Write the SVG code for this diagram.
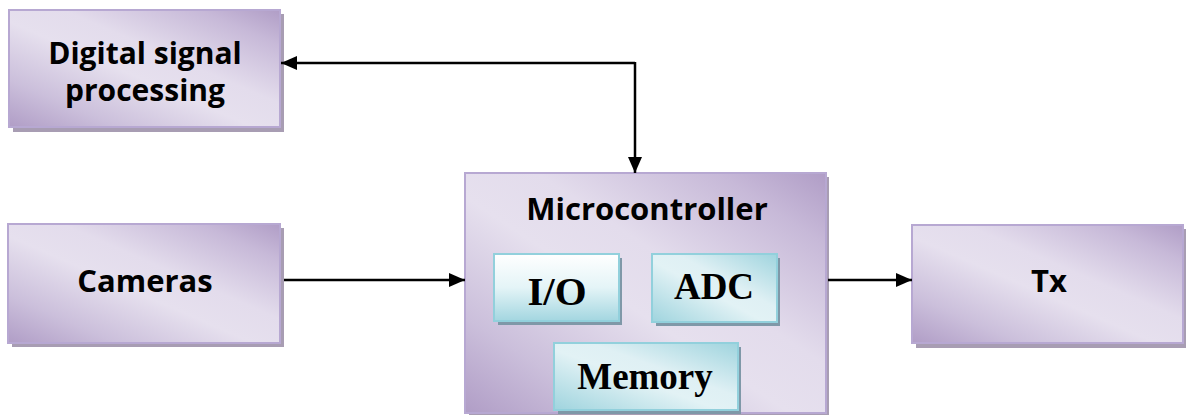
<svg xmlns="http://www.w3.org/2000/svg" width="1186" height="415" viewBox="0 0 1186 415">
  <defs>
    <linearGradient id="purple" x1="0" y1="1" x2="1" y2="0">
      <stop offset="0" stop-color="#b09dc6"/>
      <stop offset="0.2" stop-color="#cbbfdb"/>
      <stop offset="0.45" stop-color="#e6e0ee"/>
      <stop offset="0.6" stop-color="#e3dcec"/>
      <stop offset="0.85" stop-color="#c7b9d8"/>
      <stop offset="1" stop-color="#b09dc6"/>
    </linearGradient>
    <linearGradient id="cyan" x1="0" y1="1" x2="1" y2="0">
      <stop offset="0" stop-color="#9fd4de"/>
      <stop offset="0.45" stop-color="#e2f2f5"/>
      <stop offset="0.6" stop-color="#dff0f4"/>
      <stop offset="1" stop-color="#9fd4de"/>
    </linearGradient>
    <linearGradient id="cyanV" x1="0" y1="0" x2="0" y2="1">
      <stop offset="0" stop-color="#ffffff"/>
      <stop offset="0.5" stop-color="#e4f4f7"/>
      <stop offset="1" stop-color="#a3d6e0"/>
    </linearGradient>
    <marker id="arrow" viewBox="0 0 16 14" refX="16" refY="7" markerWidth="16" markerHeight="14" markerUnits="userSpaceOnUse" orient="auto">
      <path d="M0,0 L16,7 L0,14 Z" fill="#000"/>
    </marker>
  </defs>
  <style>
    .shadow { fill: #a89db3; }
    .box { fill: url(#purple); stroke: #b7a8d2; stroke-width: 2; }
    .ishadow { fill: #7f98a8; }
    .ibox { fill: url(#cyan); stroke: #92d0dc; stroke-width: 2; }
    .lbl { font-family: "Open Sans", "Liberation Sans", Arial, sans-serif; font-weight: bold; font-size: 31px; fill: #000; text-anchor: middle; }
    .ilbl { font-family: "Liberation Serif", "Times New Roman", serif; font-weight: bold; font-size: 37px; fill: #000; text-anchor: middle; }
    .wire { fill: none; stroke: #000; stroke-width: 2.5; }
  </style>

  <!-- upper left block, two-line label -->
  <g id="dsp">
    <rect class="shadow" x="13" y="14" width="271" height="118"/>
    <rect class="box" x="9" y="10" width="271" height="117"/>
    <text class="lbl" x="145" y="64" style="font-size:30px">Digital signal</text>
    <text class="lbl" x="145" y="101" style="font-size:30px">processing</text>
  </g>

  <g id="cameras">
    <rect class="shadow" x="12" y="228" width="272" height="119"/>
    <rect class="box" x="8" y="224" width="272" height="119"/>
    <text class="lbl" x="145" y="292">Cameras</text>
  </g>

  <g id="tx">
    <rect class="shadow" x="916" y="229" width="272" height="119"/>
    <rect class="box" x="912" y="225" width="271" height="118"/>
    <text class="lbl" x="1049" y="292">Tx</text>
  </g>

  <!-- controller block with its three sub-blocks -->
  <g id="microcontroller">
    <rect class="shadow" x="469" y="177" width="360" height="240"/>
    <rect class="box" x="465" y="173" width="361" height="240"/>
    <text class="lbl" x="647" y="220">Microcontroller</text>
  </g>

  <g id="io">
    <rect class="ishadow" x="498" y="258" width="124" height="67"/>
    <rect class="ibox" x="494" y="254" width="125" height="67" style="fill:url(#cyanV)"/>
    <text class="ilbl" x="557" y="305" style="font-size:41px">I/O</text>
  </g>

  <g id="adc">
    <rect class="ishadow" x="656" y="258" width="124" height="68"/>
    <rect class="ibox" x="652" y="254" width="125" height="68"/>
    <text class="ilbl" x="714" y="299">ADC</text>
  </g>

  <g id="memory">
    <rect class="ishadow" x="558" y="347" width="183" height="67"/>
    <rect class="ibox" x="554" y="343" width="184" height="67"/>
    <text class="ilbl" x="645" y="389">Memory</text>
  </g>

  <g id="connectors">
    <polyline class="wire" points="635,63 281,63" marker-end="url(#arrow)"/>
    <polyline class="wire" points="635,62 635,173" marker-end="url(#arrow)"/>
    <line class="wire" x1="284" y1="280" x2="465" y2="280" marker-end="url(#arrow)"/>
    <line class="wire" x1="828" y1="280" x2="912" y2="280" marker-end="url(#arrow)"/>
  </g>
</svg>
